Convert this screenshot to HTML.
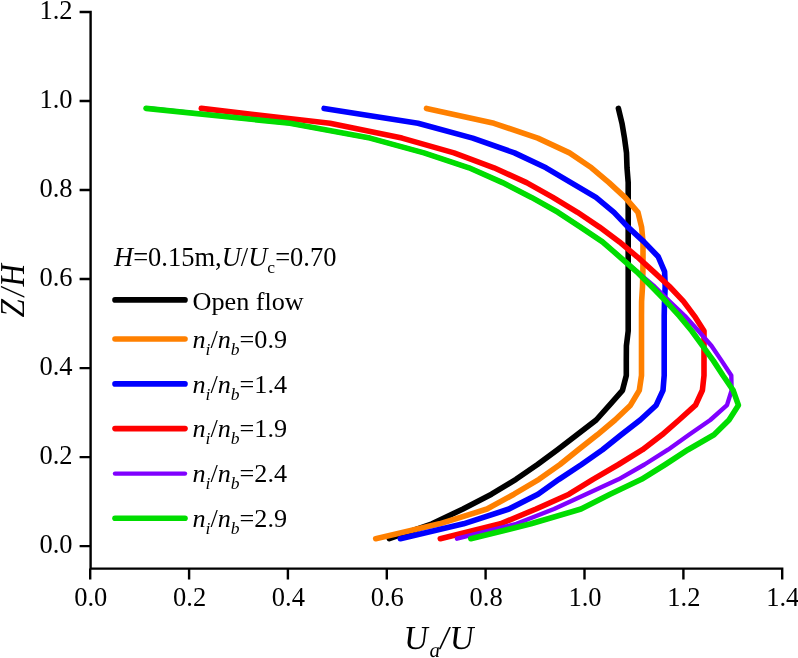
<!DOCTYPE html>
<html><head><meta charset="utf-8"><title>Velocity profiles</title>
<style>html,body{margin:0;padding:0;background:#fff;overflow:hidden}svg{display:block}text{font-family:"Liberation Serif",serif;fill:#000}.i{font-style:italic}</style></head><body>
<svg width="798" height="658" viewBox="0 0 798 658">
<rect width="798" height="658" fill="#fff"/>
<path d="M90.6 10.8 V568.6 M89.39999999999999 568.6 H783.4000000000001 M90.6 546.1 H79.6 M90.6 457.1 H79.6 M90.6 368.1 H79.6 M90.6 279.0 H79.6 M90.6 190.0 H79.6 M90.6 101.0 H79.6 M90.6 12.0 H79.6 M90.2 568.6 V579.6 M189.1 568.6 V579.6 M287.9 568.6 V579.6 M386.8 568.6 V579.6 M485.6 568.6 V579.6 M584.5 568.6 V579.6 M683.4 568.6 V579.6 M782.2 568.6 V579.6" stroke="#000" stroke-width="2.4" fill="none"/>
<text x="72.6" y="552.8" font-size="26.5" text-anchor="end">0.0</text>
<text x="72.6" y="463.8" font-size="26.5" text-anchor="end">0.2</text>
<text x="72.6" y="374.8" font-size="26.5" text-anchor="end">0.4</text>
<text x="72.6" y="285.7" font-size="26.5" text-anchor="end">0.6</text>
<text x="72.6" y="196.7" font-size="26.5" text-anchor="end">0.8</text>
<text x="72.6" y="107.7" font-size="26.5" text-anchor="end">1.0</text>
<text x="72.6" y="18.7" font-size="26.5" text-anchor="end">1.2</text>
<text x="90.7" y="606.2" font-size="26.5" text-anchor="middle">0.0</text>
<text x="189.6" y="606.2" font-size="26.5" text-anchor="middle">0.2</text>
<text x="288.4" y="606.2" font-size="26.5" text-anchor="middle">0.4</text>
<text x="387.3" y="606.2" font-size="26.5" text-anchor="middle">0.6</text>
<text x="486.1" y="606.2" font-size="26.5" text-anchor="middle">0.8</text>
<text x="585.0" y="606.2" font-size="26.5" text-anchor="middle">1.0</text>
<text x="683.9" y="606.2" font-size="26.5" text-anchor="middle">1.2</text>
<text x="782.7" y="606.2" font-size="26.5" text-anchor="middle">1.4</text>
<text transform="translate(23.8 291) rotate(-90) skewX(-8) scale(0.9 1)" font-size="35" letter-spacing="1.6" text-anchor="middle">Z/H</text>
<text transform="translate(404.6 648.8) skewX(3)" font-size="33.5" class="i">U<tspan font-size="21" dy="8.5" dx="0.5">a</tspan><tspan dy="-8.5" dx="0.5">/</tspan><tspan dx="0.6">U</tspan></text>
<polyline points="389.3,538.7 432.0,523.8 463.0,509.0 491.5,494.2 516.0,479.3 537.5,464.5 557.5,449.7 577.0,434.8 596.2,420.0 609.5,405.2 622.5,390.3 626.3,375.5 626.3,360.6 626.4,345.8 628.2,331.0 628.2,316.1 628.2,301.3 628.2,286.5 628.2,271.6 628.2,256.8 628.2,241.9 628.2,227.1 628.2,212.3 628.2,197.4 628.2,182.6 627.0,167.8 626.5,152.9 624.5,138.1 622.0,123.3 618.4,108.4" fill="none" stroke="#000000" stroke-width="5.6" stroke-linecap="round" stroke-linejoin="round"/>
<polyline points="375.7,538.7 439.5,523.8 487.0,509.0 514.0,494.2 539.0,479.3 560.0,464.5 578.3,449.7 597.3,434.8 615.0,420.0 630.5,405.2 639.3,390.3 641.5,375.5 641.5,360.6 641.5,345.8 641.5,331.0 641.5,316.1 641.6,301.3 642.5,286.5 642.9,271.6 643.0,256.8 643.0,241.9 641.6,227.1 638.0,212.3 625.0,197.4 609.0,182.6 591.5,167.8 569.5,152.9 537.8,138.1 494.0,123.3 426.5,108.4" fill="none" stroke="#FF8000" stroke-width="5.6" stroke-linecap="round" stroke-linejoin="round"/>
<polyline points="400.3,538.7 463.5,523.8 509.0,509.0 538.0,494.2 559.0,479.3 581.5,464.5 602.5,449.7 621.2,434.8 640.2,420.0 656.2,405.2 663.0,390.3 664.2,375.5 664.2,360.6 664.2,345.8 664.2,331.0 664.2,316.1 664.5,301.3 665.2,286.5 664.6,271.6 658.3,256.8 644.0,241.9 628.0,227.1 614.0,212.3 596.0,197.4 571.0,182.6 546.0,167.8 514.5,152.9 472.7,138.1 418.0,123.3 324.1,108.4" fill="none" stroke="#0000FF" stroke-width="5.6" stroke-linecap="round" stroke-linejoin="round"/>
<polyline points="440.3,538.7 500.5,523.8 536.0,509.0 569.0,494.2 593.0,479.3 618.5,464.5 642.5,449.7 662.0,434.8 679.0,420.0 695.5,405.2 702.4,390.3 704.0,375.5 704.0,360.6 704.0,345.8 704.0,331.0 694.5,316.1 683.5,301.3 669.5,286.5 653.5,271.6 637.2,256.8 619.5,241.9 599.5,227.1 577.5,212.3 552.9,197.4 526.6,182.6 494.0,167.8 454.0,152.9 402.0,138.1 330.0,123.3 201.3,108.4" fill="none" stroke="#FF0000" stroke-width="5.6" stroke-linecap="round" stroke-linejoin="round"/>
<polyline points="457.0,538.7 516.5,523.8 554.0,509.0 586.0,494.2 618.5,479.3 644.5,464.5 668.0,449.7 689.0,434.8 710.3,420.0 727.0,405.2 731.6,390.3 731.3,375.5 721.5,360.6 711.4,345.8 698.5,331.0 685.0,316.1 669.5,301.3 654.5,286.5 637.0,271.6 620.0,256.8 602.5,241.9 580.5,227.1 558.0,212.3 531.5,197.4 502.5,182.6 469.0,167.8 424.0,152.9 370.0,138.1 290.0,123.3 150.0,108.4" fill="none" stroke="#8000FF" stroke-width="4.4" stroke-linecap="round" stroke-linejoin="round"/>
<polyline points="470.8,538.7 531.0,523.8 581.0,509.0 610.1,494.2 641.5,479.3 665.3,464.5 688.0,449.7 714.0,434.8 729.0,420.0 738.4,405.2 733.2,390.3 723.0,375.5 713.3,360.6 702.6,345.8 691.8,331.0 679.5,316.1 666.0,301.3 651.6,286.5 636.5,271.6 619.7,256.8 602.5,241.9 580.5,227.1 558.0,212.3 531.5,197.4 502.5,182.6 469.0,167.8 424.0,152.9 370.0,138.1 290.0,123.3 146.0,108.4" fill="none" stroke="#00DD00" stroke-width="5.6" stroke-linecap="round" stroke-linejoin="round"/>
<text x="114" y="265.5" font-size="26.5"><tspan class="i">H</tspan>=0.15m,<tspan class="i">U</tspan>/<tspan class="i">U</tspan><tspan font-size="17.5" dy="7">c</tspan><tspan dy="-7">=0.70</tspan></text>
<line x1="115" y1="299.9" x2="185" y2="299.9" stroke="#000000" stroke-width="5.6" stroke-linecap="round"/>
<text x="192.5" y="309.7" font-size="26.2">Open flow</text>
<line x1="115" y1="339.0" x2="185" y2="339.0" stroke="#FF8000" stroke-width="5.6" stroke-linecap="round"/>
<text x="192.5" y="347.8" font-size="26.2"><tspan class="i">n</tspan><tspan class="i" font-size="17.5" dy="7">i</tspan><tspan dy="-7">/</tspan><tspan class="i">n</tspan><tspan class="i" font-size="17.5" dy="7">b</tspan><tspan dy="-7">=0.9</tspan></text>
<line x1="115" y1="383.9" x2="185" y2="383.9" stroke="#0000FF" stroke-width="5.6" stroke-linecap="round"/>
<text x="192.5" y="392.7" font-size="26.2"><tspan class="i">n</tspan><tspan class="i" font-size="17.5" dy="7">i</tspan><tspan dy="-7">/</tspan><tspan class="i">n</tspan><tspan class="i" font-size="17.5" dy="7">b</tspan><tspan dy="-7">=1.4</tspan></text>
<line x1="115" y1="428.6" x2="185" y2="428.6" stroke="#FF0000" stroke-width="5.6" stroke-linecap="round"/>
<text x="192.5" y="437.4" font-size="26.2"><tspan class="i">n</tspan><tspan class="i" font-size="17.5" dy="7">i</tspan><tspan dy="-7">/</tspan><tspan class="i">n</tspan><tspan class="i" font-size="17.5" dy="7">b</tspan><tspan dy="-7">=1.9</tspan></text>
<line x1="115" y1="473.6" x2="185" y2="473.6" stroke="#8000FF" stroke-width="4.4" stroke-linecap="round"/>
<text x="192.5" y="482.4" font-size="26.2"><tspan class="i">n</tspan><tspan class="i" font-size="17.5" dy="7">i</tspan><tspan dy="-7">/</tspan><tspan class="i">n</tspan><tspan class="i" font-size="17.5" dy="7">b</tspan><tspan dy="-7">=2.4</tspan></text>
<line x1="115" y1="518.3" x2="185" y2="518.3" stroke="#00DD00" stroke-width="5.6" stroke-linecap="round"/>
<text x="192.5" y="527.1" font-size="26.2"><tspan class="i">n</tspan><tspan class="i" font-size="17.5" dy="7">i</tspan><tspan dy="-7">/</tspan><tspan class="i">n</tspan><tspan class="i" font-size="17.5" dy="7">b</tspan><tspan dy="-7">=2.9</tspan></text>
</svg></body></html>
